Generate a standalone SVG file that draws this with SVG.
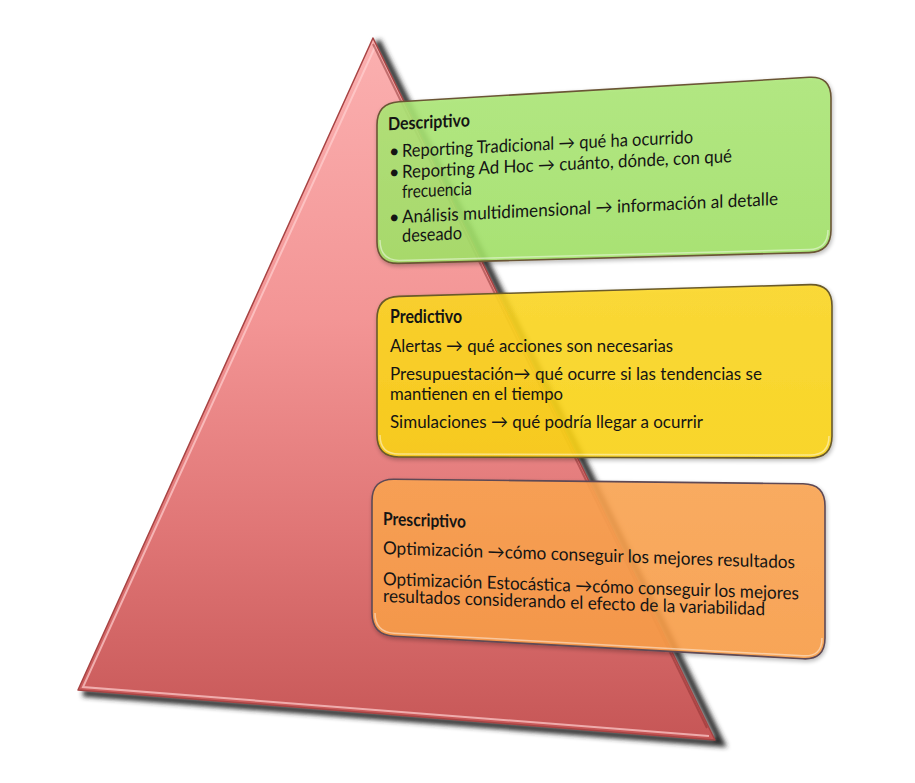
<svg xmlns="http://www.w3.org/2000/svg" width="915" height="783" viewBox="0 0 915 783">
<defs>
<linearGradient id="triG" x1="0" y1="38" x2="0" y2="740" gradientUnits="userSpaceOnUse">
<stop offset="0" stop-color="#fbb0b0"/>
<stop offset="0.4" stop-color="#f39595"/>
<stop offset="0.7" stop-color="#e07676"/>
<stop offset="1" stop-color="#c65656"/>
</linearGradient>
<linearGradient id="gG" x1="0" y1="0" x2="0" y2="1">
<stop offset="0" stop-color="#ade878"/>
<stop offset="1" stop-color="#a2e268"/>
</linearGradient>
<linearGradient id="yG" x1="0" y1="0" x2="0" y2="1">
<stop offset="0" stop-color="#fdd824"/>
<stop offset="1" stop-color="#fcd414"/>
</linearGradient>
<linearGradient id="oG" x1="0" y1="0" x2="0" y2="1">
<stop offset="0" stop-color="#fca552"/>
<stop offset="1" stop-color="#fb9e48"/>
</linearGradient>
<filter id="blur" x="-10%" y="-10%" width="120%" height="120%">
<feGaussianBlur stdDeviation="2.5"/>
</filter>
<filter id="bshadow" x="-5%" y="-5%" width="110%" height="115%">
<feGaussianBlur in="SourceAlpha" stdDeviation="2"/>
<feOffset dx="1" dy="2" result="b"/>
<feComponentTransfer><feFuncA type="linear" slope="0.3"/></feComponentTransfer>
<feMerge><feMergeNode/><feMergeNode in="SourceGraphic"/></feMerge>
</filter>
</defs>
<style>
.t{font-family:Lato,"Open Sans","Liberation Sans",sans-serif;font-size:18px;fill:#141414}
.b{font-weight:bold}
.box{stroke-width:1.6;fill-opacity:0.88}
.hl{fill:none;stroke:#ffffff;stroke-opacity:0.45;stroke-width:1.5}
</style>
<g id="pyramid">
<polyline points="374,40 718,742 80,692" fill="none" stroke="#2a2a2a" stroke-width="7" filter="url(#blur)" transform="translate(3,1)"/>
<polygon points="373,38 78,690 715,740" fill="url(#triG)" stroke="#a84444" stroke-width="1.5" stroke-linejoin="round"/>
<polyline points="375,47 83,687 709,736" fill="none" stroke="#ffd0d0" stroke-opacity="0.7" stroke-width="2"/>
<polyline points="373,44 707,728" fill="none" stroke="#8a2e2e" stroke-opacity="0.5" stroke-width="2"/>
</g>
<g id="descriptivo">
<path class="box" d="M377,125 Q377,103 399,101.7 L809,77.3 Q831,76 831,98 L831,230 Q831,252 809,252.6 L399,263.4 Q377,264 377,242 Z" fill="url(#gG)" stroke="#6b5535" filter="url(#bshadow)"/>
<path class="hl" d="M380,240 Q380,260 399,260.4 L809,249.6 Q828,249 828,230"/>
<g transform="translate(402,0) skewY(-2.75) translate(-402,0)">
<text class="t b" x="388" y="129.5" textLength="82" lengthAdjust="spacingAndGlyphs">Descriptivo</text>
<text class="t" x="389" y="157">•</text>
<text class="t" x="402" y="157" textLength="291" lengthAdjust="spacingAndGlyphs">Reporting Tradicional → qué ha ocurrido</text>
<text class="t" x="389" y="178">•</text>
<text class="t" x="402" y="178" textLength="330" lengthAdjust="spacingAndGlyphs">Reporting Ad Hoc → cuánto, dónde, con qué</text>
<text class="t" x="402" y="198" textLength="70" lengthAdjust="spacingAndGlyphs">frecuencia</text>
<text class="t" x="389" y="223">•</text>
<text class="t" x="402" y="223" textLength="376" lengthAdjust="spacingAndGlyphs">Análisis multidimensional → información al detalle</text>
<text class="t" x="402" y="242" textLength="60" lengthAdjust="spacingAndGlyphs">deseado</text>
</g>
</g>
<g id="predictivo">
<path class="box" d="M377,319 Q377,297 399,296.4 L810,284.6 Q832,284 832,306 L832,436 Q832,458 810,458 L399,457 Q377,457 377,435 Z" fill="url(#yG)" stroke="#6a5a2a" filter="url(#bshadow)"/>
<path class="hl" d="M380,435 Q380,454 399,454 L810,455 Q829,455 829,436"/>
<text class="t b" x="390" y="323" textLength="72" lengthAdjust="spacingAndGlyphs">Predictivo</text>
<text class="t" x="390" y="352" textLength="283" lengthAdjust="spacingAndGlyphs">Alertas → qué acciones son necesarias</text>
<text class="t" x="390" y="380" textLength="372" lengthAdjust="spacingAndGlyphs">Presupuestación→ qué ocurre si las tendencias se</text>
<text class="t" x="390" y="400" textLength="173" lengthAdjust="spacingAndGlyphs">mantienen en el tiempo</text>
<text class="t" x="390" y="428" textLength="313" lengthAdjust="spacingAndGlyphs">Simulaciones → qué podría llegar a ocurrir</text>
</g>
<g id="prescriptivo">
<path class="box" d="M372,501 Q372,479 394,479.2 L803,483.8 Q825,484 825,506 L825,638 Q825,660 803,658.8 L394,636.2 Q372,635 372,613 Z" fill="url(#oG)" stroke="#5e4a55" filter="url(#bshadow)"/>
<path class="hl" d="M375,613 Q375,632 394,633.2 L803,655.8 Q822,657 822,638"/>
<g transform="translate(383,0) skewY(2) translate(-383,0)">
<text class="t b" x="383" y="525" textLength="83" lengthAdjust="spacingAndGlyphs">Prescriptivo</text>
<text class="t" x="383" y="554" textLength="412" lengthAdjust="spacingAndGlyphs">Optimización →cómo conseguir los mejores resultados</text>
<text class="t" x="383" y="585" textLength="416" lengthAdjust="spacingAndGlyphs">Optimización Estocástica →cómo conseguir los mejores</text>
<text class="t" x="383" y="602" textLength="382" lengthAdjust="spacingAndGlyphs">resultados considerando el efecto de la variabilidad</text>
</g>
</g>
<g id="connectors"/>
</svg>
